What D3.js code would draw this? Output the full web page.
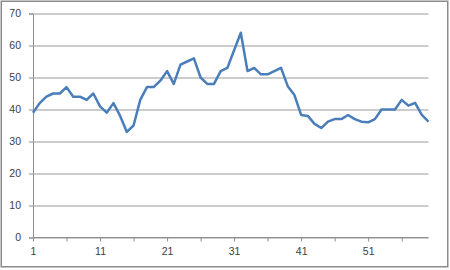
<!DOCTYPE html>
<html>
<head>
<meta charset="utf-8">
<script src="https://cdn.jsdelivr.net/npm/d3@7"></script>
<style>
  body { margin: 0; background: #fff; }
  svg { display: block; }
  .tick text { font-family: "Liberation Sans", Arial, sans-serif; font-size: 10.5px; fill: #404040; }
</style>
</head>
<body>
<svg id="chart" width="450" height="270"></svg>
<script>
// values, one per category 1..60
const categories = d3.range(1, 61);
const values = [39, 42, 44, 45, 45, 47, 44, 44, 43, 45,
                41, 39, 42, 38, 33, 35, 43, 47, 47, 49,
                52, 48, 54, 55, 56, 50, 48, 48, 52, 53,
                58.5, 64, 52, 53, 51, 51, 52, 53, 47.3, 44.5,
                38.3, 38, 35.5, 34.2, 36.2, 37, 37, 38.3, 37, 36.2,
                36, 37, 40, 40, 40, 43, 41.2, 42.1, 38.3, 36.2];
const yTicks = [0, 10, 20, 30, 40, 50, 60, 70];
const xLabels = [1, 11, 21, 31, 41, 51];

const svg = d3.select("#chart");

// outer chart border
svg.append("rect")
    .attr("x", 1.25).attr("y", 1.25)
    .attr("width", 446.5).attr("height", 265.5)
    .attr("fill", "#fff")
    .attr("stroke", "#8c8c8c")
    .attr("stroke-width", 1.5);

const x = d3.scaleLinear().domain([1, 60]).range([33, 428.5]);
const y = d3.scaleLinear().domain([0, 70]).range([237.5, 13.5]);

// horizontal gridlines + y labels
const yAxis = d3.axisLeft(y)
    .tickValues(yTicks)
    .tickSize(4)
    .tickPadding(8);
const yG = svg.append("g").attr("transform", "translate(33,0)").call(yAxis);
yG.select(".domain").attr("stroke", "#8f8f8f");
yG.selectAll(".tick line").attr("stroke", "#8f8f8f");
yG.selectAll(".tick").append("line")
    .attr("class", "grid")
    .attr("x1", 0).attr("x2", 428.5 - 33)
    .attr("stroke", "#9a9a9a")
    .attr("stroke-width", 1);

// x axis: tick marks every 5 categories, labels every 10
const xAxis = d3.axisBottom(x)
    .tickValues(d3.range(1, 61, 5))
    .tickSize(4)
    .tickPadding(6)
    .tickFormat(d => xLabels.includes(d) ? d : "");
const xG = svg.append("g").attr("transform", "translate(0,237.5)").call(xAxis);
xG.select(".domain").attr("stroke", "#8f8f8f").attr("d", "M33,0H428.5");
xG.selectAll(".tick line").attr("stroke", "#8f8f8f");

// the series
const line = d3.line()
    .x((d, i) => x(categories[i]))
    .y(d => y(d));

svg.append("path")
    .datum(values)
    .attr("fill", "none")
    .attr("stroke", "#4a7ebb")
    .attr("stroke-width", 2.5)
    .attr("stroke-linejoin", "round")
    .attr("d", line);
</script>
</body>
</html>
